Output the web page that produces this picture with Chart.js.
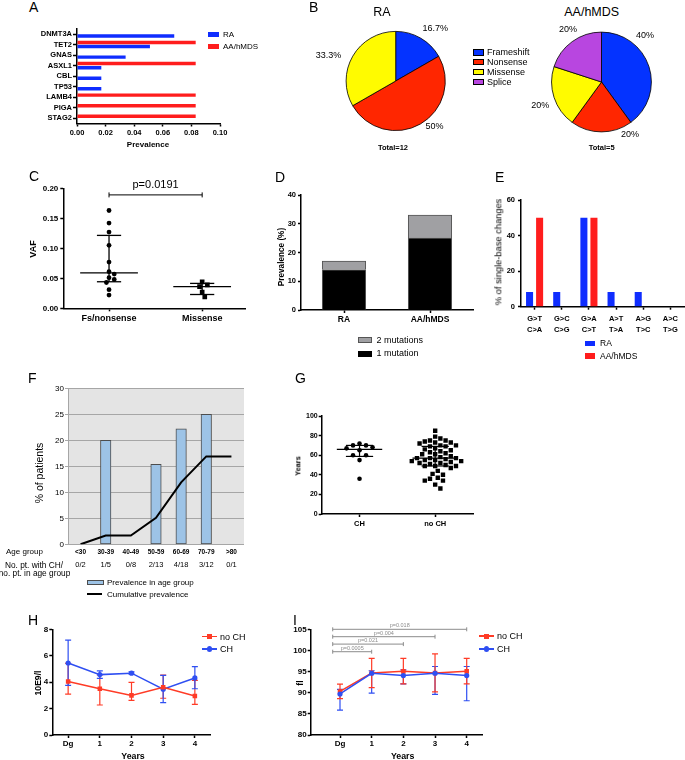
<!DOCTYPE html>
<html><head><meta charset="utf-8">
<script src="https://cdn.jsdelivr.net/npm/chart.js"></script>
<style>
body{margin:0;background:#fff;width:685px;height:760px;position:relative;overflow:hidden;font-family:"Liberation Sans",Arial,Helvetica,sans-serif;}
canvas{position:absolute;}
.t{position:absolute;white-space:nowrap;line-height:1;color:#000;}
.r{position:absolute;box-sizing:border-box;}
</style></head><body>
<script>
// ---------------- DATA ----------------
const geneLabels = ['DNMT3A','TET2','GNAS','ASXL1','CBL','TP53','LAMB4','PIGA','STAG2'];
const genePrevRA = [0.068,0.051,0.034,0.017,0.017,0.017,0,0,0];
const genePrevAA = [0,0.083,0,0.083,0,0,0.083,0.083,0.083];

const mutTypes = ['Frameshift','Nonsense','Missense','Splice'];
const mutShareRA = [16.7,50,33.3,0];
const mutShareAA = [40,20,20,20];
const totalRA = 12, totalAA = 5;

const vafGroups = ['Fs/nonsense','Missense'];
const vafFsNonsense = [0.163,0.142,0.127,0.105,0.077,0.061,0.057,0.051,0.048,0.043,0.031,0.022];
const vafMissense = [0.044,0.039,0.036,0.027,0.019];
const pValueC = 'p=0.0191';

const cohortLabels = ['RA','AA/hMDS'];
const prevOneMut = [14,25];
const prevTwoMut = [3,8];

const baseChangeLabels = [['G>T','C>A'],['G>C','C>G'],['G>A','C>T'],['A>T','T>A'],['A>G','T>C'],['A>C','T>G']];
const baseChangeRA = [8.3,8.3,50,8.3,8.3,0];
const baseChangeAA = [50,0,50,0,0,0];

const ageGroups = ['<30','30-39','40-49','50-59','60-69','70-79','>80'];
const chCounts = ['0/2','1/5','0/8','2/13','4/18','3/12','0/1'];
const prevInAgeGroup = [0,20,0,15.4,22.2,25,0];
const cumulativePrev = [0,1.7,1.7,5.1,11.9,16.9,16.9];

const chGroups = ['CH','no CH'];
const ageCH = [72,70,70,68,67,65,60,60,55,36];
const ageNoCH = [85,79,77,75,75,74,73,73,72,70,70,69,69,67,66,65,64,63,62,61,61,59,58,57,57,57,56,55,55,54,54,53,52,52,51,50,49,49,49,47,44,41,40,37,36,34,34,30,26];

const yearLabels = ['Dg','1','2','3','4'];
const wbcNoCH   = [4.05,3.5,3.0,3.62,2.95];
const wbcNoCHLo = [3.1,2.27,2.62,2.78,2.32];
const wbcNoCHHi = [5.42,4.54,3.99,4.54,4.14];
const wbcCH     = [5.45,4.57,4.68,3.47,4.32];
const wbcCHLo   = [3.75,4.29,4.6,2.45,3.5];
const wbcCHHi   = [7.18,4.86,4.78,4.52,5.17];

const mcvNoCH   = [90.3,94.65,95.05,94.65,95.05];
const mcvNoCHLo = [88.6,91.2,92.1,90.2,92.1];
const mcvNoCHHi = [92.05,98.1,98.1,99.2,98.1];
const mcvCH     = [89.7,94.6,94.05,94.6,94.05];
const mcvCHLo   = [85.9,89.9,92.1,89.6,88.1];
const mcvCHHi   = [90.8,95.2,95.4,96.2,96.2];
const pYears  = [1,2,3,4];
const pLabels = ['p=0.0005','p=0.021','p=0.004','p=0.018'];
const pLevels = [99.7,101.5,103.25,105];

// ---------------- STYLE ----------------
const FF = '"Liberation Sans", Arial, Helvetica, sans-serif';
const BLUE = '#0F2DFF', RED = '#FF1D1D';
const PIE = ['#0433FF','#FF2600','#FFFB00','#B846E0'];
const HRED = '#FF3B26', HBLUE = '#2F4FF2';
Chart.defaults.font.family = FF;
Chart.defaults.color = '#000';

function merge(a,b){for(const k in b){const v=b[k];if(v&&typeof v==='object'&&!Array.isArray(v)){a[k]=merge(a[k]&&typeof a[k]==='object'?a[k]:{},v);}else a[k]=v;}return a;}
function ax(extra){
  return merge({
    border:{display:true,color:'#000',width:1.5},
    grid:{display:true,drawOnChartArea:false,drawTicks:true,tickLength:3,tickColor:'#000',tickWidth:1.5,offset:false},
    ticks:{padding:2,color:'#000',font:{size:8,weight:'bold'},maxRotation:0,autoSkip:false}
  }, extra||{});
}
function zeroPad(s){s.paddingTop=0;s.paddingBottom=0;s.paddingLeft=0;s.paddingRight=0;}
function makeChart(box, area, cfg){
  const c=document.createElement('canvas');
  c.width=box.w; c.height=box.h;
  Object.assign(c.style,{left:box.x+'px',top:box.y+'px',width:box.w+'px',height:box.h+'px'});
  document.body.appendChild(c);
  const o=cfg.options=cfg.options||{};
  o.responsive=false; o.maintainAspectRatio=false; o.animation=false; o.devicePixelRatio=1;
  const hasScales=!!o.scales;
  o.layout={autoPadding:false,padding:{
    left: hasScales?0:area.l-box.x, bottom: hasScales?0:box.y+box.h-area.b,
    top: area.t-box.y, right: box.x+box.w-area.r}};
  o.plugins=Object.assign({legend:{display:false},tooltip:{enabled:false}},o.plugins||{});
  if(hasScales){
    for(const k in o.scales){
      const s=o.scales[k];
      if(k==='x') s.afterFit=sc=>{sc.height=box.y+box.h-area.b;zeroPad(sc);};
      else s.afterFit=sc=>{sc.width=area.l-box.x;zeroPad(sc);};
    }
  }
  return new Chart(c,cfg);
}
function txt(s,x,y,o){
  o=o||{};
  const d=document.createElement('div'); d.className='t'; d.textContent=s;
  d.style.left=x+'px'; d.style.top=y+'px'; d.style.fontSize=(o.size||9)+'px';
  if(o.bold) d.style.fontWeight='bold';
  if(o.color) d.style.color=o.color;
  const ax=o.align==='c'?'-50%':(o.align==='r'?'-100%':'0');
  d.style.transform=o.rot?'translate(-50%,-50%) rotate(-90deg)':`translate(${ax},-50%)`;
  document.body.appendChild(d);
}
function rect(x,y,w,h,fill,border,round){
  const d=document.createElement('div'); d.className='r';
  Object.assign(d.style,{left:x+'px',top:y+'px',width:w+'px',height:h+'px',background:fill});
  if(border) d.style.border='1px solid '+border;
  if(round) d.style.borderRadius='50%';
  document.body.appendChild(d);
}
function lineLegend(x,y,color,marker,label,size){
  rect(x,y-0.75,15,1.5,color);
  if(marker==='rect') rect(x+5,y-2.5,5,5,color); else rect(x+5,y-2.6,5.2,5.2,color,null,true);
  txt(label,x+18,y,{size:size||9});
}
function quant(s,p){const pos=p*(s.length+1);const i=Math.floor(pos),f=pos-i;if(i<1)return s[0];if(i>=s.length)return s[s.length-1];return s[i-1]+f*(s[i]-s[i-1]);}
function swarm(vals,pxPerVal,pxPerX,d){
  const order=vals.map((v,i)=>i).sort((a,b)=>vals[b]-vals[a]);
  const placed=[]; const off=new Array(vals.length).fill(0);
  for(const i of order){
    const py=vals[i]*pxPerVal;
    for(let k=0;k<80;k++){
      const cand=k===0?0:(k%2?1:-1)*Math.ceil(k/2)*d*0.5;
      if(placed.every(p=>Math.hypot(p.x-cand,p.y-py)>=d)){placed.push({x:cand,y:py});off[i]=cand/pxPerX;break;}
    }
  }
  return off;
}

// ---------------- PLUGINS ----------------
const pieLabelPlugin={id:'pieLabels',afterDatasetsDraw(chart,a,opts){
  const meta=chart.getDatasetMeta(0), ds=chart.data.datasets[0], ctx=chart.ctx;
  ctx.save(); ctx.font='9px '+FF; ctx.fillStyle='#000'; ctx.textAlign='center'; ctx.textBaseline='middle';
  meta.data.forEach((arc,i)=>{const v=ds.data[i]; if(!v||!opts.pos[i])return; const [ang,dist]=opts.pos[i]; const r=ang*Math.PI/180;
    ctx.fillText(v+'%',arc.x+dist*Math.sin(r),arc.y-dist*Math.cos(r));});
  ctx.restore();
}};
const summaryPlugin={id:'summary',afterDatasetsDraw(chart,a,o){
  const {ctx,scales:{x,y}}=chart; ctx.save(); ctx.strokeStyle='#000'; ctx.lineWidth=o.lw||1.3;
  chart.data.datasets.forEach(ds=>{
    if(ds.summary==null)return;
    const v=ds.data.map(p=>p.y).sort((p,q)=>p-q);
    const med=quant(v,0.5),q1=quant(v,0.25),q3=quant(v,0.75),cx=ds.summary;
    const seg=(x0,x1,yv)=>{ctx.beginPath();ctx.moveTo(x.getPixelForValue(x0),y.getPixelForValue(yv));ctx.lineTo(x.getPixelForValue(x1),y.getPixelForValue(yv));ctx.stroke();};
    seg(cx-o.medW,cx+o.medW,med); seg(cx-o.iqrW,cx+o.iqrW,q1); seg(cx-o.iqrW,cx+o.iqrW,q3);
    ctx.beginPath();ctx.moveTo(x.getPixelForValue(cx),y.getPixelForValue(q1));ctx.lineTo(x.getPixelForValue(cx),y.getPixelForValue(q3));ctx.stroke();
  });
  ctx.restore();
}};
const bracketPlugin={id:'bracket',afterDraw(chart,a,o){
  const {ctx,scales:{x,y}}=chart; ctx.save(); ctx.strokeStyle=o.color; ctx.fillStyle=o.color; ctx.lineWidth=o.lw;
  ctx.font=o.size+'px '+FF; ctx.textAlign='center'; ctx.textBaseline='middle';
  o.items.forEach(it=>{const X0=x.getPixelForValue(it.x0),X1=x.getPixelForValue(it.x1),Y=y.getPixelForValue(it.y);
    ctx.beginPath();ctx.moveTo(X0,Y);ctx.lineTo(X1,Y);
    ctx.moveTo(X0,Y-o.tick);ctx.lineTo(X0,Y+o.tick);ctx.moveTo(X1,Y-o.tick);ctx.lineTo(X1,Y+o.tick);ctx.stroke();
    ctx.fillText(it.label,(X0+X1)/2,Y-o.gap);});
  ctx.restore();
}};
const errPlugin={id:'err',beforeDatasetsDraw(chart){
  const {ctx,scales:{x,y}}=chart; ctx.save();
  chart.data.datasets.forEach(ds=>{ if(!ds.errLo)return; ctx.strokeStyle=ds.borderColor; ctx.lineWidth=1.2;
    ds.data.forEach((p,i)=>{const X=x.getPixelForValue(p.x),L=y.getPixelForValue(ds.errLo[i]),H=y.getPixelForValue(ds.errHi[i]);
      ctx.beginPath();ctx.moveTo(X,L);ctx.lineTo(X,H);ctx.moveTo(X-3,L);ctx.lineTo(X+3,L);ctx.moveTo(X-3,H);ctx.lineTo(X+3,H);ctx.stroke();});});
  ctx.restore();
}};
const plotBgPlugin={id:'plotBg',beforeDraw(chart,a,o){const {ctx,chartArea:c}=chart;ctx.save();ctx.fillStyle=o.color;ctx.fillRect(c.left,c.top,c.right-c.left,c.bottom-c.top);ctx.restore();}};
const rowLabelsPlugin={id:'rowLabels',afterDraw(chart,a,o){const {ctx,scales:{x}}=chart;ctx.save();ctx.font=o.size+'px '+FF;ctx.fillStyle='#000';ctx.textAlign='center';ctx.textBaseline='middle';
  o.labels.forEach((l,i)=>ctx.fillText(l,x.getPixelForValue(i),o.y));ctx.restore();}};

// ---------------- PANEL A ----------------
txt('A',29,7,{size:14});
makeChart({x:0,y:20,w:240,h:135},{l:77,t:28.75,r:220,b:123.5},{
  type:'bar',
  data:{labels:geneLabels,datasets:[
    {label:'AA/hMDS',data:genePrevAA,backgroundColor:RED,categoryPercentage:0.78,barPercentage:0.85},
    {label:'RA',data:genePrevRA,backgroundColor:BLUE,categoryPercentage:0.78,barPercentage:0.85}]},
  options:{indexAxis:'y',scales:{
    x:ax({type:'linear',min:0,max:0.1,ticks:{stepSize:0.02,font:{size:7.5},callback:v=>v.toFixed(2)}}),
    y:ax({type:'category',grid:{tickLength:4},ticks:{padding:1,font:{size:7.5}}})}}
});
txt('Prevalence',148,145,{size:8,bold:1,align:'c'});
rect(208,32.3,11,5,BLUE); txt('RA',223,34.8,{size:8});
rect(208,43.8,11,5.2,RED); txt('AA/hMDS',223,47,{size:8});

// ---------------- PANEL B ----------------
txt('B',309,7,{size:14});
txt('RA',382,12,{size:12.5,align:'c'});
txt('AA/hMDS',591.7,12,{size:12.5,align:'c'});
makeChart({x:300,y:0,w:170,h:160},{l:345.7,t:31,r:445.7,b:131},{
  type:'pie',
  data:{labels:mutTypes,datasets:[{data:mutShareRA,backgroundColor:PIE,borderColor:'#000',borderWidth:0.8}]},
  options:{plugins:{pieLabels:{pos:[[36.7,66],[139.7,60],[291,72],null]}}},
  plugins:[pieLabelPlugin]});
makeChart({x:510,y:0,w:175,h:160},{l:551.2,t:31.7,r:651.8,b:132.3},{
  type:'pie',
  data:{labels:mutTypes,datasets:[{data:mutShareAA,backgroundColor:PIE,borderColor:'#000',borderWidth:0.8}]},
  options:{plugins:{pieLabels:{pos:[[42.8,64],[151.7,60],[248.6,65.7],[327.6,62.4]]}}},
  plugins:[pieLabelPlugin]});
txt('Total='+totalRA,393,148,{size:7.5,bold:1,align:'c'});
txt('Total='+totalAA,601.7,148,{size:7.5,bold:1,align:'c'});
[52.3,62,71.8,81.7].forEach((y,i)=>{rect(473,y-3.2,10.5,6.6,PIE[i],'#000');txt(mutTypes[i],487,y,{size:9});});

// ---------------- PANEL C ----------------
txt('C',29,176,{size:14});
const offC1=swarm(vafFsNonsense,600,93,5.2), offC2=swarm(vafMissense,600,93,5.2);
makeChart({x:0,y:165,w:255,h:160},{l:63.3,t:188.3,r:245,b:308.3},{
  type:'scatter',
  data:{datasets:[
    {data:vafFsNonsense.map((v,i)=>({x:1+offC1[i],y:v})),pointStyle:'circle',pointRadius:2.4,backgroundColor:'#000',pointBorderWidth:0,summary:1},
    {data:vafMissense.map((v,i)=>({x:2+offC2[i],y:v})),pointStyle:'rect',pointRadius:3.3,backgroundColor:'#000',pointBorderWidth:0,summary:2}]},
  options:{scales:{
    x:ax({type:'linear',min:0.509,max:2.46,afterBuildTicks:s=>{s.ticks=[{value:1},{value:2}];},ticks:{font:{size:9},callback:v=>vafGroups[v-1]}}),
    y:ax({min:0,max:0.2,ticks:{stepSize:0.05,callback:v=>v.toFixed(2)}})},
    plugins:{summary:{medW:0.31,iqrW:0.13,lw:1.3},
      bracket:{items:[{x0:1,x1:2,y:0.189,label:pValueC}],color:'#000',lw:1,size:11,tick:2.5,gap:10}}},
  plugins:[summaryPlugin,bracketPlugin]});
txt('VAF',32.5,249,{size:9,bold:1,rot:1});

// ---------------- PANEL D ----------------
txt('D',275,176.5,{size:14});
makeChart({x:250,y:170,w:235,h:160},{l:301,t:195,r:473,b:310},{
  type:'bar',
  data:{labels:cohortLabels,datasets:[
    {label:'1 mutation',data:prevOneMut,backgroundColor:'#000',borderColor:'#555',borderWidth:1,barThickness:43.5},
    {label:'2 mutations',data:prevTwoMut,backgroundColor:'#A0A0A3',borderColor:'#555',borderWidth:1,barThickness:43.5}]},
  options:{scales:{
    x:ax({stacked:true,ticks:{font:{size:8.5}}}),
    y:ax({stacked:true,min:0,max:40,ticks:{stepSize:10,font:{size:7.5}}})}}});
txt('Prevalence (%)',281.7,257,{size:8.2,bold:1,rot:1});
rect(358.3,336.7,13.4,6.6,'#A0A0A3','#555'); txt('2 mutations',376.5,339.5,{size:9});
rect(358.3,350.5,13.4,6.4,'#000'); txt('1 mutation',376.5,353.3,{size:9});

// ---------------- PANEL E ----------------
txt('E',495,176.5,{size:14});
makeChart({x:475,y:170,w:210,h:170},{l:521,t:200,r:684,b:306.7},{
  type:'bar',
  data:{labels:baseChangeLabels,datasets:[
    {label:'RA',data:baseChangeRA,backgroundColor:BLUE,categoryPercentage:0.74,barPercentage:0.7},
    {label:'AA/hMDS',data:baseChangeAA,backgroundColor:RED,categoryPercentage:0.74,barPercentage:0.7}]},
  options:{scales:{
    x:ax({ticks:{font:{size:7.5,lineHeight:1.45},padding:4}}),
    y:ax({min:0,max:60,ticks:{stepSize:20,font:{size:7.5},padding:3}})}}});
txt('% of single-base changes',499,252,{size:9.3,rot:1});
rect(585,340.5,10,5.5,BLUE); txt('RA',600,343.3,{size:8.5});
rect(585,353.2,10,5.5,RED); txt('AA/hMDS',600,356,{size:8.5});

// ---------------- PANEL F ----------------
txt('F',28,378,{size:14});
makeChart({x:0,y:370,w:255,h:200},{l:68,t:388.3,r:244,b:544.3},{
  type:'bar',
  data:{labels:ageGroups,datasets:[
    {type:'line',label:'Cumulative prevalence',data:cumulativePrev,borderColor:'#000',borderWidth:2,pointRadius:0,order:0},
    {label:'Prevalence in age group',data:prevInAgeGroup,backgroundColor:'#9DC3E6',borderColor:'#4D4D4D',borderWidth:1,borderSkipped:false,barThickness:10.5,order:1}]},
  options:{scales:{
    x:{grid:{display:false,drawTicks:false,tickLength:0},border:{display:false},ticks:{padding:4,font:{size:6.5,weight:'bold'},color:'#000',maxRotation:0,autoSkip:false}},
    y:{min:0,max:30,border:{display:true,color:'#A6A6A6',width:1},grid:{color:'#A6A6A6',lineWidth:1,tickLength:3,tickColor:'#A6A6A6'},ticks:{stepSize:5,padding:1,font:{size:8},color:'#000'}}},
    plugins:{plotBg:{color:'#E4E4E4'},rowLabels:{labels:chCounts,y:565.3-370,size:7.5}}},
  plugins:[plotBgPlugin,rowLabelsPlugin]});
txt('% of patients',39,473,{size:10.5,rot:1});
txt('Age group',6,552,{size:8});
txt('No. pt. with CH/',34,565,{size:8.3,align:'c'});
txt('no. pt. in age group',34.5,573,{size:8.3,align:'c'});
rect(87.3,579.8,16.7,5.6,'#9DC3E6','#4D4D4D'); txt('Prevalence in age group',107,582.5,{size:8});
rect(87.3,593,15,2,'#000'); txt('Cumulative prevalence',107,594.5,{size:8});

// ---------------- PANEL G ----------------
txt('G',295,378,{size:14});
const offG1=swarm(ageCH,0.98,75.65,6.5), offG2=swarm(ageNoCH,0.98,75.65,5.2);
makeChart({x:275,y:395,w:210,h:140},{l:321.7,t:416,r:473,b:514},{
  type:'scatter',
  data:{datasets:[
    {data:ageCH.map((v,i)=>({x:1+offG1[i],y:v})),pointStyle:'circle',pointRadius:2.3,backgroundColor:'#000',pointBorderWidth:0,summary:1},
    {data:ageNoCH.map((v,i)=>({x:2+offG2[i],y:v})),pointStyle:'rect',pointRadius:3.1,backgroundColor:'#000',pointBorderWidth:0,summary:2}]},
  options:{scales:{
    x:ax({type:'linear',min:0.5,max:2.5,afterBuildTicks:s=>{s.ticks=[{value:1},{value:2}];},ticks:{font:{size:7.5},callback:v=>chGroups[v-1]}}),
    y:ax({min:0,max:100,ticks:{stepSize:20,font:{size:7},padding:1}})},
    plugins:{summary:{medW:0.3,iqrW:0.18,lw:1.2}}},
  plugins:[summaryPlugin]});
txt('Years',298,466,{size:7.3,bold:1,rot:1});

// ---------------- PANEL H ----------------
txt('H',28,620,{size:14});
makeChart({x:10,y:612,w:235,h:148},{l:52.3,t:629.3,r:210.7,b:735},{
  type:'scatter',
  data:{datasets:[
    {data:wbcNoCH.map((v,i)=>({x:i,y:v})),showLine:true,borderColor:HRED,backgroundColor:HRED,borderWidth:1.5,pointStyle:'rect',pointRadius:3.2,pointBorderWidth:0,errLo:wbcNoCHLo,errHi:wbcNoCHHi},
    {data:wbcCH.map((v,i)=>({x:i,y:v})),showLine:true,borderColor:HBLUE,backgroundColor:HBLUE,borderWidth:1.5,pointStyle:'circle',pointRadius:2.6,pointBorderWidth:0,errLo:wbcCHLo,errHi:wbcCHHi}]},
  options:{scales:{
    x:ax({type:'linear',min:-0.5,max:4.5,afterBuildTicks:s=>{s.ticks=yearLabels.map((_,i)=>({value:i}));},ticks:{padding:1,callback:v=>yearLabels[v]}}),
    y:ax({min:0,max:8,ticks:{stepSize:2,padding:1}})}},
  plugins:[errPlugin]});
txt('10E9/l',38,682.5,{size:8.6,bold:1,rot:1});
txt('Years',133,756.3,{size:8.8,bold:1,align:'c'});
lineLegend(202,636.7,HRED,'rect','no CH',9);
lineLegend(202,649,HBLUE,'circle','CH',9);

// ---------------- PANEL I ----------------
txt('I',293,620,{size:14});
makeChart({x:268,y:612,w:230,h:148},{l:310.7,t:629.3,r:482.7,b:735},{
  type:'scatter',
  data:{datasets:[
    {data:mcvCH.map((v,i)=>({x:i,y:v})),showLine:true,borderColor:HBLUE,backgroundColor:HBLUE,borderWidth:1.5,pointStyle:'circle',pointRadius:2.6,pointBorderWidth:0,errLo:mcvCHLo,errHi:mcvCHHi},
    {data:mcvNoCH.map((v,i)=>({x:i,y:v})),showLine:true,borderColor:HRED,backgroundColor:HRED,borderWidth:1.5,pointStyle:'rect',pointRadius:3.2,pointBorderWidth:0,errLo:mcvNoCHLo,errHi:mcvNoCHHi}]},
  options:{scales:{
    x:ax({type:'linear',min:-0.925,max:4.505,afterBuildTicks:s=>{s.ticks=yearLabels.map((_,i)=>({value:i}));},ticks:{padding:1,callback:v=>yearLabels[v]}}),
    y:ax({min:80,max:105,ticks:{stepSize:5,padding:1}})},
    plugins:{bracket:{items:pYears.map((k,i)=>({x0:-0.23,x1:k,y:pLevels[i],label:pLabels[i]})),color:'#8C8C8C',lw:1,size:5.5,tick:2,gap:3.6}}},
  plugins:[errPlugin,bracketPlugin]});
txt('fl',300,682.5,{size:8.6,bold:1,rot:1});
txt('Years',402.7,756.3,{size:8.8,bold:1,align:'c'});
lineLegend(479,636,HRED,'rect','no CH',9);
lineLegend(479,649,HBLUE,'circle','CH',9);
</script>
</body></html>
